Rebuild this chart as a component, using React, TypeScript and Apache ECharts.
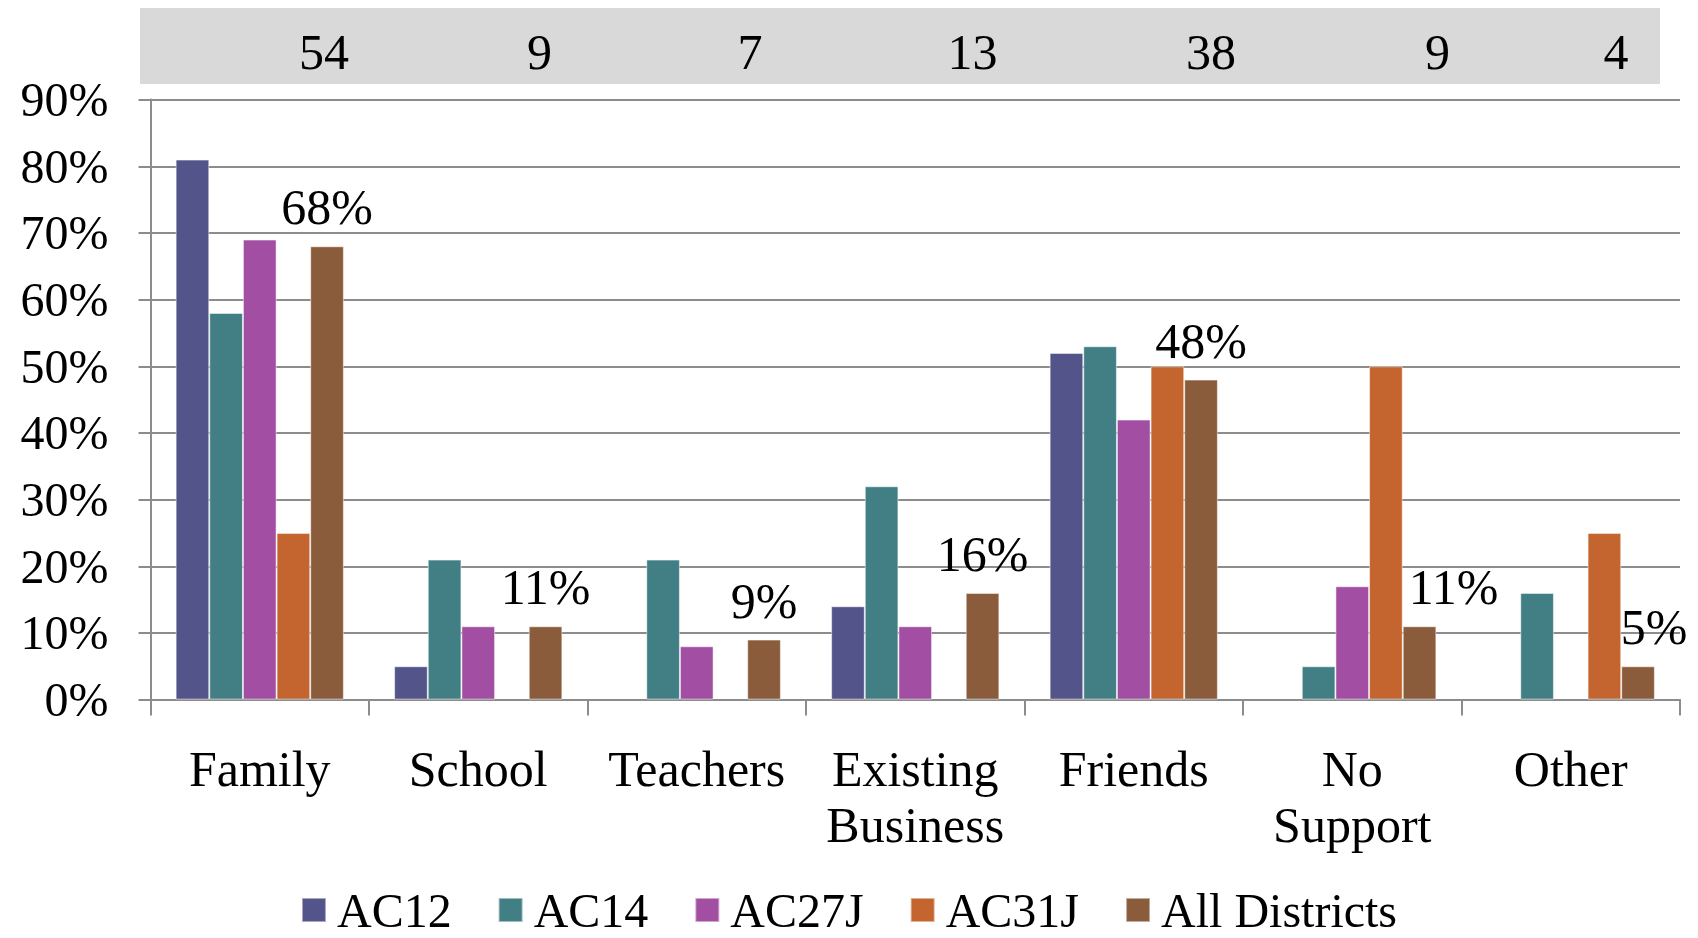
import React, { useEffect, useRef } from "react";
import * as echarts from "echarts";

const categories = ["Family", "School", "Teachers", "Existing\nBusiness", "Friends", "No\nSupport", "Other"];
const seriesNames = ["AC12", "AC14", "AC27J", "AC31J", "All Districts"];
const ac12 = [81, 5, null, 14, 52, null, null];
const ac14 = [58, 21, 21, 32, 53, 5, 16];
const ac27j = [69, 11, 8, 11, 42, 17, null];
const ac31j = [25, null, null, null, 50, 50, 25];
const allDistricts = [68, 11, 9, 16, 48, 11, 5];
const respondentCounts = [54, 9, 7, 13, 38, 9, 4];
const yMin = 0;
const yMax = 90;
const yStep = 10;

const colors = ["#53548A", "#427F85", "#A24EA2", "#C4652F", "#8A5C3B"];
const FONT = "'Liberation Serif', 'Times New Roman', serif";
const labelShift: Record<number, number> = { 5: 34, 6: 16 };
const countShift = [-3, -6, -14, -10, 10, 18, -22];
const CAT_GAP = 0.23;

export default function App() {
  const ref = useRef<HTMLDivElement>(null);
  useEffect(() => {
    if (!ref.current) return;
    const chart = echarts.init(ref.current, null, { renderer: "svg" });
    const values = [ac12, ac14, ac27j, ac31j, allDistricts];
    const series = values.map((arr, si) => ({
      name: seriesNames[si],
      type: "bar",
      barGap: "0%",
      barCategoryGap: CAT_GAP * 100 + "%",
      itemStyle: { color: colors[si], borderColor: "rgba(255,255,255,0.5)", borderWidth: 1 },
      data:
        si === 4
          ? arr.map((v, i) => ({ value: v, label: { offset: [labelShift[i] || 0, 0] } }))
          : arr,
      label:
        si === 4
          ? {
              show: true,
              position: "top",
              distance: 14,
              formatter: "{c}%",
              color: "#000",
              fontFamily: FONT,
              fontSize: 50,
            }
          : { show: false },
    }));
    chart.setOption({
      animation: false,
      textStyle: { fontFamily: FONT },
      grid: { left: 150.5, right: 18, top: 99.6, bottom: 238.4, containLabel: false },
      legend: {
        data: seriesNames,
        top: 880,
        left: "center",
        itemWidth: 24,
        itemHeight: 24,
        itemGap: 46,
        icon: "rect",
        textStyle: { fontFamily: FONT, fontSize: 48, color: "#000", lineHeight: 50, padding: [0, 0, 0, 6] },
      },
      xAxis: {
        type: "category",
        data: categories,
        axisLine: { lineStyle: { color: "#8C8C8C", width: 2 } },
        axisTick: { show: true, length: 16, lineStyle: { color: "#8C8C8C", width: 2 } },
        axisLabel: { color: "#000", fontFamily: FONT, fontSize: 50, lineHeight: 56, margin: 41, interval: 0 },
      },
      yAxis: {
        type: "value",
        min: yMin,
        max: yMax,
        interval: yStep,
        axisLine: { show: true, lineStyle: { color: "#8C8C8C", width: 2 } },
        axisTick: { show: true, length: 12, lineStyle: { color: "#8C8C8C", width: 2 } },
        splitLine: { lineStyle: { color: "#8C8C8C", width: 2 } },
        axisLabel: { formatter: "{value}%", color: "#000", fontFamily: FONT, fontSize: 48, margin: 42 },
      },
      series,
    });

    const c0 = chart.convertToPixel({ xAxisIndex: 0 }, 0) as number;
    const c1 = chart.convertToPixel({ xAxisIndex: 0 }, 1) as number;
    const catW = c1 - c0;
    const barW = (catW * (1 - CAT_GAP)) / 5;
    const texts = respondentCounts.map((n, i) => {
      const cx = (chart.convertToPixel({ xAxisIndex: 0 }, i) as number) + 2 * barW + countShift[i];
      return {
        type: "text",
        z: 10,
        style: {
          text: String(n),
          x: cx,
          y: 52,
          align: "center",
          verticalAlign: "middle",
          textAlign: "center",
          textVerticalAlign: "middle",
          fontFamily: FONT,
          fontSize: 50,
          fill: "#000",
        },
      };
    });
    chart.setOption({
      graphic: [
        { type: "rect", z: 1, shape: { x: 140, y: 8, width: 1520, height: 76 }, style: { fill: "#D9D9D9" } },
        ...texts,
      ],
    });
    return () => chart.dispose();
  }, []);
  return <div ref={ref} style={{ position: "fixed", left: 0, top: 0, width: 1698, height: 938 }} />;
}
